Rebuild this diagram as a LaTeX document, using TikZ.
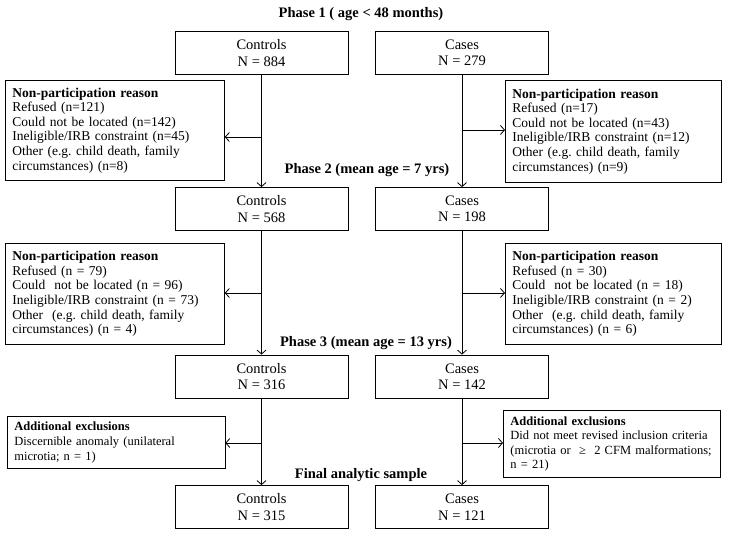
\documentclass[tikz,border=0pt]{standalone}
\usepackage{fontspec}
\setmainfont{Liberation Serif}
\usetikzlibrary{arrows.meta}
\frenchspacing
\begin{document}
\begin{tikzpicture}[x=1pt, y=-1pt, line width=0.8pt, >={Straight Barb[length=4pt,width=9pt]},
    group/.style ={rectangle, draw, minimum width=173pt, minimum height=43pt, inner sep=0pt, align=center, font=\fontsize{14.5}{16.5}\selectfont},
    reason/.style ={rectangle, draw, anchor=north west, inner xsep=7pt, inner ysep=0pt, align=left, font=\fontsize{13.5}{14.6}\selectfont},
    extra/.style ={reason, font=\fontsize{12.5}{14.6}\selectfont},
    phase/.style ={inner sep=0pt, font=\bfseries\fontsize{14.5}{16}\selectfont}]
   \useasboundingbox (0,0) rectangle (729,537);

   \node[phase] (P1) at (361,14) {Phase 1 ( age < 48 months)};
   \node[phase] (P2) at (367,170) {Phase 2 (mean age = 7 yrs)};
   \node[phase] (P3) at (366,343) {Phase 3 (mean age = 13 yrs)};
   \node[phase] (P4) at (361,475) {Final analytic sample};

   \node[group] (ctrlA) at (261.5,53) {Controls\\N = 884};
   \node[group] (caseA) at (462,53) {Cases\\N = 279};
   \node[group] (ctrlB) at (261.5,209) {Controls\\N = 568};
   \node[group] (caseB) at (462,209) {Cases\\N = 198};
   \node[group] (ctrlC) at (261.5,376.5) {Controls\\N = 316};
   \node[group] (caseC) at (462,376.5) {Cases\\N = 142};
   \node[group] (ctrlD) at (261.5,507) {Controls\\N = 315};
   \node[group] (caseD) at (462,507) {Cases\\N = 121};

   \node[reason, text width=205pt, minimum height=100pt] (npCA) at (5,80) {\textbf{Non-participation reason}\\Refused (n=121)\\Could not be located (n=142)\\Ineligible/IRB constraint (n=45)\\Other (e.g. child death, family\\circumstances) (n=8)};
   \node[reason, text width=202pt, minimum height=102pt] (npKA) at (505,80) {\textbf{Non-participation reason}\\Refused (n=17)\\Could not be located (n=43)\\Ineligible/IRB constraint (n=12)\\Other (e.g. child death, family\\circumstances) (n=9)};
   \node[reason, text width=205pt, minimum height=101pt] (npCB) at (5,243) {\textbf{Non-participation reason}\\Refused (n = 79)\\Could\ \ not be located (n = 96)\\Ineligible/IRB constraint (n = 73)\\Other\ \ (e.g. child death, family\\circumstances) (n = 4)};
   \node[reason, text width=202pt, minimum height=101pt] (npKB) at (505,243) {\textbf{Non-participation reason}\\Refused (n = 30)\\Could\ \ not be located (n = 18)\\Ineligible/IRB constraint (n = 2)\\Other\ \ (e.g. child death, family\\circumstances) (n = 6)};
   \node[extra, text width=203.5pt, minimum height=52pt] (exC) at (7,416) {\textbf{Additional exclusions}\\Discernible anomaly (unilateral\\microtia; n = 1)};
   \node[extra, text width=203pt, minimum height=67pt] (exK) at (503,410) {\textbf{Additional exclusions}\\Did not meet revised inclusion criteria\\(microtia or\ \ ≥\ \ 2 CFM malformations;\\n = 21)};

   \draw[->] (ctrlA) to (ctrlB);
   \draw[->] (caseA) to (caseB);
   \draw[->] (ctrlB) to (ctrlC);
   \draw[->] (caseB) to (caseC);
   \draw[->] (ctrlC) to (ctrlD);
   \draw[->] (caseC) to (caseD);

   \coordinate (jCA) at (261.5,137);
   \coordinate (jKA) at (462,130);
   \coordinate (jCB) at (261.5,293);
   \coordinate (jKB) at (462,293);
   \coordinate (jCC) at (261.5,443);
   \coordinate (jKC) at (462,443);

   \draw[->] (jCA) to (jCA -| npCA.east);
   \draw[->] (jKA) to (jKA -| npKA.west);
   \draw[->] (jCB) to (jCB -| npCB.east);
   \draw[->] (jKB) to (jKB -| npKB.west);
   \draw[->] (jCC) to (jCC -| exC.east);
   \draw[->] (jKC) to (jKC -| exK.west);
 \end{tikzpicture}
\end{document}
